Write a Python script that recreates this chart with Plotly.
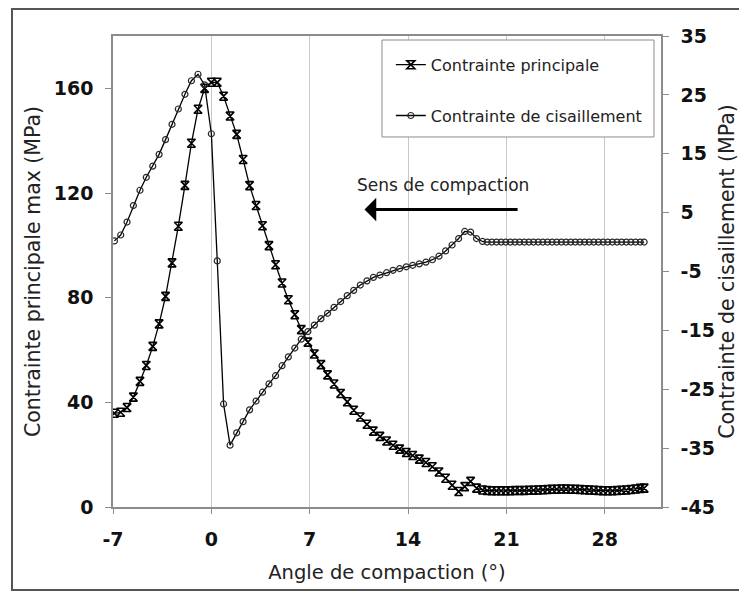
import plotly.graph_objects as go

# ---- data ----
angle = [-6.9, -6.45, -6.0, -5.55, -5.08, -4.63, -4.17, -3.72, -3.26, -2.8,
         -2.35, -1.88, -1.42, -0.95, -0.48, 0.0, 0.42, 0.87, 1.33, 1.8,
         2.26, 2.72, 3.18, 3.64, 4.1, 4.57, 5.03, 5.48, 5.94, 6.4,
         6.87, 7.33, 7.8, 8.27, 8.73, 9.2, 9.67, 10.13, 10.6, 11.07,
         11.53, 12.0, 12.47, 12.93, 13.4, 13.87, 14.33, 14.8, 15.27, 15.73,
         16.2, 16.67, 17.13, 17.6, 18.03, 18.45, 18.87, 19.3,
         19.63, 19.96, 20.29, 20.62, 20.95, 21.28, 21.61, 21.94, 22.27, 22.6,
         22.93, 23.26, 23.59, 23.92, 24.25, 24.58, 24.91, 25.24, 25.57, 25.9,
         26.23, 26.56, 26.89, 27.22, 27.55, 27.88, 28.21, 28.54, 28.87, 29.2,
         29.53, 29.86, 30.19, 30.52, 30.8]

contrainte_principale = [35.8, 36.2, 38.0, 42.0, 48.0, 54.1, 61.4, 70.0, 80.5, 93.3,
                         107.3, 122.9, 139.0, 152.0, 160.0, 162.3, 162.3, 157.0, 149.4, 142.4,
                         132.8, 122.8, 115.2, 107.5, 99.9, 92.6, 85.6, 79.2, 73.5, 67.8,
                         63.0, 58.5, 54.4, 50.5, 47.0, 43.4, 40.2, 37.0, 34.4, 31.6,
                         29.0, 27.0, 25.2, 23.6, 22.1, 20.8, 19.7, 18.3, 17.0, 15.4,
                         13.4, 11.0, 8.3, 5.9, 7.8, 9.8, 7.2, 6.5,
                         6.3, 6.2, 6.2, 6.2, 6.2, 6.2, 6.3, 6.3, 6.3, 6.4,
                         6.4, 6.5, 6.6, 6.7, 6.8, 6.8, 6.9, 6.9, 6.8, 6.8,
                         6.7, 6.6, 6.5, 6.4, 6.3, 6.2, 6.2, 6.2, 6.3, 6.4,
                         6.5, 6.7, 6.9, 7.1, 7.2]

contrainte_cisaillement = [0.2, 1.2, 3.4, 6.2, 8.8, 11.0, 12.9, 14.9, 17.4, 20.0,
                           22.6, 25.1, 27.4, 28.5, 26.7, 18.4, -3.2, -27.5, -34.5, -32.4,
                           -30.5, -28.5, -27.0, -25.5, -24.1, -22.7, -21.0, -19.5, -18.0, -16.5,
                           -15.2, -14.1, -13.0, -12.1, -11.1, -10.1, -9.1, -8.2, -7.3, -6.6,
                           -6.0, -5.6, -5.2, -4.8, -4.5, -4.2, -3.95, -3.7, -3.4, -3.0,
                           -2.4, -1.5, -0.5, 0.6, 1.8, 1.7, 0.6, 0.1,
                           0.0, 0.0, 0.0, 0.0, 0.0, 0.0, 0.0, 0.0, 0.0, 0.0,
                           0.0, 0.0, 0.0, 0.0, 0.0, 0.0, 0.0, 0.0, 0.0, 0.0,
                           0.0, 0.0, 0.0, 0.0, 0.0, 0.0, 0.0, 0.0, 0.0, 0.0,
                           0.0, 0.0, 0.0, 0.0, 0.0]

x_ticks = [-7, 0, 7, 14, 21, 28]
y_left_ticks = [0, 40, 80, 120, 160]
y_right_ticks = [-45, -35, -25, -15, -5, 5, 15, 25, 35]

FONT = "DejaVu Sans"
GRID = "#c8c8c8"
AXIS = "#8c8c8c"

fig = go.Figure()
fig.add_trace(go.Scatter(
    x=angle, y=contrainte_principale, name="Contrainte principale",
    mode="lines+markers", legendgroup="a",
    line=dict(color="#000000", width=1.3),
    marker=dict(symbol="hourglass-open", size=8, color="#000000",
                line=dict(color="#000000", width=1.6)),
    yaxis="y"))
fig.add_trace(go.Scatter(
    x=angle, y=contrainte_cisaillement, name="Contrainte de cisaillement",
    mode="lines+markers", legendgroup="b",
    line=dict(color="#000000", width=1.3),
    marker=dict(symbol="circle-open", size=6, color="#2a2a2a",
                line=dict(color="#2a2a2a", width=1.2)),
    yaxis="y2"))

tickfont = dict(family=FONT, size=19, color="#111111", weight="bold")
titlefont = dict(family=FONT, size=19.5, color="#222222")
ytitlefont = dict(family=FONT, size=20.5, color="#222222")

# page body has an 8 px margin: figure is sized/offset to compensate
fig.update_layout(
    width=739, height=588,
    margin=dict(l=105, r=86, t=28, b=89),
    paper_bgcolor="white", plot_bgcolor="white",
    showlegend=True,
    legend=dict(x=0.507, y=0.975, xanchor="left", yanchor="top",
                bgcolor="rgba(0,0,0,0)", borderwidth=0,
                font=dict(family=FONT, size=16, color="#222222"),
                traceorder="grouped", tracegroupgap=27),
    xaxis=dict(range=[-7, 32], tickvals=x_ticks, ticktext=[str(v) for v in x_ticks],
               showgrid=True, gridcolor=GRID,
               gridwidth=1, zeroline=False, showline=True, linecolor=AXIS,
               linewidth=1.5, mirror=True, ticks="outside", ticklen=5,
               tickcolor=AXIS, tickfont=tickfont, ticklabelstandoff=9,
               title=dict(text="Angle de compaction (°)", font=titlefont, standoff=17)),
    yaxis=dict(range=[0, 180], tickvals=y_left_ticks, ticktext=[str(v) for v in y_left_ticks],
               showgrid=False, zeroline=False,
               showline=True, linecolor=AXIS, linewidth=1.5, ticks="outside",
               ticklen=6, tickcolor=AXIS, tickfont=tickfont, ticklabelstandoff=8,
               title=dict(text="Contrainte principale max (MPa)", font=ytitlefont, standoff=8)),
    yaxis2=dict(range=[-45, 35], tickvals=y_right_ticks,
                ticktext=[str(v) for v in y_right_ticks], overlaying="y", side="right",
                showgrid=False, zeroline=False, showline=True, linecolor=AXIS,
                linewidth=1.5, ticks="outside", ticklen=6, tickcolor=AXIS,
                tickfont=tickfont, ticklabelstandoff=8,
                title=dict(text="Contrainte de cisaillement (MPa)", font=ytitlefont, standoff=4)),
)

# legend frame (white box over the grid)
fig.add_shape(type="rect", xref="paper", yref="paper",
              x0=0.4909, x1=0.9872, y0=0.7856, y1=0.9915,
              line=dict(color="#8c8c8c", width=1), fillcolor="white", layer="above")

# arrow "Sens de compaction"
fig.add_annotation(x=10.9, y=113.7, ax=21.9, ay=113.7, xref="x", yref="y",
                   axref="x", ayref="y", text="", showarrow=True,
                   arrowhead=1, arrowsize=1.3, arrowwidth=3, arrowcolor="#000000")
fig.add_annotation(x=16.5, y=123, xref="x", yref="y", text="Sens de compaction",
                   showarrow=False, font=dict(family=FONT, size=17, color="#222222"))

# outer chart border
fig.add_shape(type="rect", xref="paper", yref="paper",
              x0=-0.1843, x1=1.1442, y0=-0.1762, y1=1.0573,
              line=dict(color="#555555", width=2), fillcolor="rgba(0,0,0,0)", layer="below")

fig.write_html("out.html")
